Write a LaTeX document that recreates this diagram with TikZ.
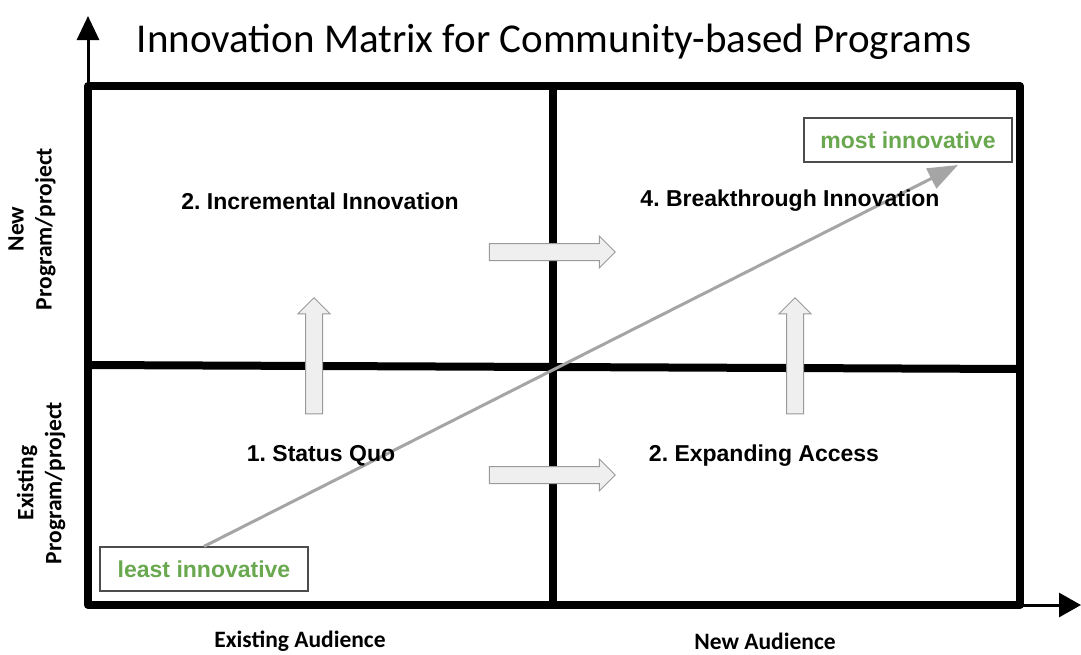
\documentclass[tikz,border=0pt]{standalone}
\usepackage{fontspec}
\setmainfont{Liberation Sans}
\newfontfamily\calibri{Carlito}
\usetikzlibrary{arrows.meta,shapes.arrows}
\definecolor{leafgreen}{HTML}{6AA84F}
\definecolor{shaftgray}{HTML}{EFEFEF}
\definecolor{rimgray}{HTML}{9A9A9A}
\definecolor{linegray}{HTML}{A5A5A5}
\frenchspacing
\begin{document}
\begin{tikzpicture}[x=1pt,y=-1pt,
  quad/.style={font=\fontsize{23}{27}\selectfont\bfseries},
  axlabel/.style={font=\calibri\fontsize{23.5}{28}\selectfont\bfseries,align=center},
  tag/.style={draw=black!70,line width=1.2pt,text=leafgreen,font=\fontsize{23}{26}\selectfont\bfseries,minimum width=208pt,minimum height=44pt,inner sep=0pt},
  block/.style={single arrow,draw=rimgray,fill=shaftgray,line width=1pt,text height=8pt,text depth=8pt,inner sep=0pt,single arrow head extend=7.5pt,minimum height=#1}]
\useasboundingbox (0,0) rectangle (1081,654);
\coordinate (O) at (88,605);
\coordinate (ytop) at (88,16);
\coordinate (xend) at (1081,605);
% axes and frame
\draw [line width=3pt,-{Triangle[length=24pt,width=22pt]}] (O) -- (ytop);
\draw [line width=3pt,-{Triangle[length=22pt,width=24pt]}] (O) -- (xend);
\draw [line width=8pt,line join=round] (88,86) rectangle (1020,605);
\draw [line width=8pt] (553,86) -- (553,605);
\draw [line width=8pt] (88,365) -- (1020,369);
\node (title) at (554,42) {\calibri\fontsize{41}{44}\selectfont Innovation Matrix for Community-based Programs};
% block arrows
\node [block=126pt] (right1) at (548,252) {};
\node [block=126pt] (right2) at (548,475) {};
\node [block=116pt,rotate=90] (up1) at (314,360) {};
\node [block=116pt,rotate=90] (up2) at (795,360) {};
% least to most
\node [tag] (least) at (204,569) {least innovative};
\node [tag] (most) at (908,140) {most innovative};
\coordinate (tip) at (958,165);
\draw [linegray,line width=3pt,-{Triangle[length=30pt,width=22pt]}] (least.north) -- (tip);
% quadrants
\node [quad] (q2) at (320,201) {2. Incremental Innovation};
\node [quad] (q4) at (790,201) {4. Breakthrough Innovation};
\node [quad] (q1) at (321,456) {1. Status Quo};
\node [quad] (q3) at (764,456) {2. Expanding Access};
% axis labels
\node [axlabel,rotate=90] (newprog) at (32,229) {New\\Program/project};
\node [axlabel,rotate=90] (oldprog) at (41,483) {Existing\\Program/project};
\node [axlabel] (oldaud) at (300,641) {Existing Audience};
\node [axlabel] (newaud) at (765,641) {New Audience};
\end{tikzpicture}
\end{document}
